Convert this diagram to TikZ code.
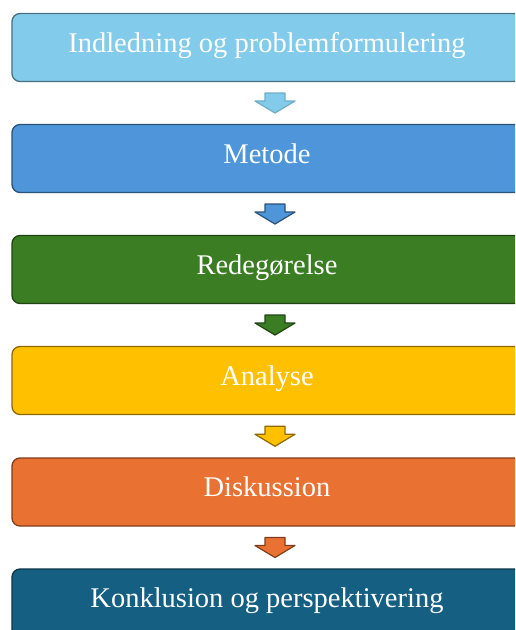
\documentclass[tikz,border=0pt]{standalone}
\usepackage{fontspec}
\setmainfont{Liberation Serif}
\usetikzlibrary{calc}
\definecolor{cIntro}{HTML}{83CBEB}
\definecolor{cMethod}{HTML}{4E95D9}
\definecolor{cAccount}{HTML}{3B7D23}
\definecolor{cAnalysis}{HTML}{FFC000}
\definecolor{cDiscuss}{HTML}{E97132}
\definecolor{cConclude}{HTML}{156082}
\tikzset{
  stage/.style={draw=#1!55!black, fill=#1, line width=1.3pt, rounded corners=8pt,
    minimum width=510pt, minimum height=68pt, inner sep=0pt, text=white,
    text height=18pt, text depth=9pt,
    font=\fontsize{28.5}{31}\selectfont},
  downarrow/.style={draw=#1!55!black, fill=#1, line width=1.2pt, line join=round}
}
\begin{document}
\begin{tikzpicture}[x=1pt, y=-1pt]
\useasboundingbox (0,0) rectangle (515,630);
\clip (0,0) rectangle (515,630);
\fill[white] (0,0) rectangle (515,630);
\node[stage=cIntro]    (s1) at (267,47.5)  {Indledning og problemformulering};
\node[stage=cMethod]   (s2) at (267,158.5) {Metode};
\node[stage=cAccount]  (s3) at (267,269.5) {Redegørelse};
\node[stage=cAnalysis] (s4) at (267,380.5) {Analyse};
\node[stage=cDiscuss]  (s5) at (267,492)   {Diskussion};
\node[stage=cConclude] (s6) at (267,603)   {Konklusion og perspektivering};
% block arrows between consecutive stages
\foreach \a/\b/\c/\d in {s1/s2/cIntro/cIntro!85!black, s2/s3/cMethod/cMethod!55!black,
    s3/s4/cAccount/cAccount!55!black, s4/s5/cAnalysis/cAnalysis!55!black,
    s5/s6/cDiscuss/cDiscuss!55!black}{
  \coordinate (m) at ($(\a.south)!0.5!(\b.north)+(8,0)$);
  \draw[downarrow=\c, draw=\d] (m) ++(-10,-10) -- ++(20,0) -- ++(0,8) -- ++(10,0)
    -- ++(-20,12) -- ++(-20,-12) -- ++(10,0) -- cycle;
}
\end{tikzpicture}
\end{document}
